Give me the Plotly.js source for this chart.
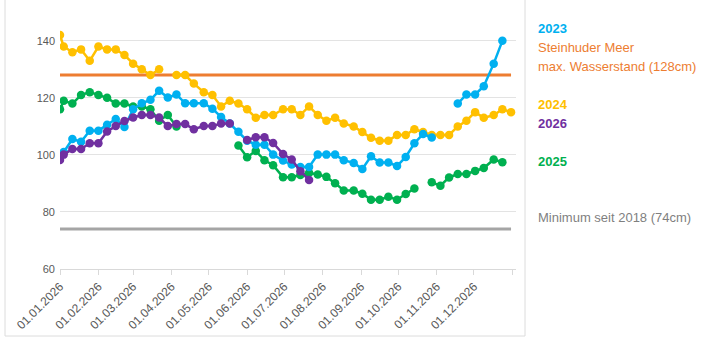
<!DOCTYPE html>
<html>
<head>
<meta charset="utf-8">
<script src="https://cdn.plot.ly/plotly-3.0.1.min.js"></script>
<style>
  html, body { margin: 0; padding: 0; background: #fff; }
  #chart { width: 720px; height: 344px; }
</style>
</head>
<body>
<div id="chart"></div>
<script>
// Measurement dates (all years shown on the 2026 calendar)
const dates = [
  '2026-01-01','2026-01-04','2026-01-11','2026-01-18','2026-01-25','2026-02-01','2026-02-08',
  '2026-02-15','2026-02-22','2026-03-01','2026-03-08','2026-03-15','2026-03-22','2026-03-29',
  '2026-04-05','2026-04-12','2026-04-19','2026-04-27','2026-05-04','2026-05-11','2026-05-18',
  '2026-05-25','2026-06-01','2026-06-08','2026-06-15','2026-06-22','2026-06-30','2026-07-07',
  '2026-07-14','2026-07-21','2026-07-28','2026-08-04','2026-08-11','2026-08-18','2026-08-26',
  '2026-09-02','2026-09-09','2026-09-16','2026-09-23','2026-09-30','2026-10-07','2026-10-14',
  '2026-10-21','2026-10-28','2026-11-04','2026-11-11','2026-11-18','2026-11-25','2026-12-02',
  '2026-12-09','2026-12-17','2026-12-24','2026-12-31'
];

// Water level in cm, one value per date (null = no reading)
const level2023 = [
  99, 101, 105.6, 104.6, 108.5, 108.5, 110.6, 112.6, 109.8, 116, 118.1, 119.3, 122.5, 120.1,
  121.2, 118.1, 118.1, 118.1, 116.2, 113.3, 111, 108.1, 105, 103.6, 103.6, 100.1, 98,
  96.6, 95.8, 95.8, 100.1, 100.1, 100.1, 98.1, 97.2, 95.1, 99.5, 97.3, 97.3, 96.1,
  99.3, 104.1, 107.3, 106.1, null, null, 118, 121.2, 121.2, 124.1, 132, 140, null
];
const level2024 = [
  142, 138, 136, 137, 133, 138, 137, 137, 135, 132, 130, 128, 130, null,
  128, 128, 125, 122, 121, 117, 119, 118, 116, 113, 114, 114, 116,
  116, 114, 117, 114, 112, 113, 111, 110, 108, 106, 105, 105, 107,
  107, 109, 108, 107, 107, 107, 110, 112, 115, 113, 114, 116, 115
];
const level2025 = [
  116, 119, 118, 121, 122, 121, 120, 118, 118, 117, 117, 116, 112, 114,
  110, null, null, null, null, null, null, 103.3, 99.2, 101.4, 98.1, 96.4, 92.2,
  92.2, 93, 93.7, 93.1, 92.3, 90.1, 87.5, 87.5, 86.4, 84.3, 84.3, 85.3, 84.3,
  86.3, 88.2, null, 90.4, 89.2, 92.1, 93.3, 93.3, 94.4, 95.4, 98.4, 97.4, null
];
const level2026 = [
  98.2, 100.1, 102.1, 102.1, 104.1, 104.1, 108.2, 110.1, 111.9, 113.1, 114, 114, 113.1, 110.1,
  110.8, 110.8, 109, 110.1, 110.1, 111, 111, null, 105.2, 106.2, 106.2, 104.2, 100.3,
  98.4, 94.3, 91.2
];

// Reference levels
const maxLevel = 128;   // max. Wasserstand
const minLevel = 74;    // Minimum seit 2018
const refSpan = ['2026-01-01', '2026-12-31'];

// Axis ticks
const monthTicks = [
  '2026-01-01','2026-02-01','2026-03-01','2026-04-01','2026-05-01','2026-06-01',
  '2026-07-01','2026-08-01','2026-09-01','2026-10-01','2026-11-01','2026-12-01','2027-01-01'
];
const monthLabels = [
  '01.01.2026','01.02.2026','01.03.2026','01.04.2026','01.05.2026','01.06.2026',
  '01.07.2026','01.08.2026','01.09.2026','01.10.2026','01.11.2026','01.12.2026',''
];
const yTicks = [60, 80, 100, 120, 140];

const colors = {
  y2023: '#00b0f0', y2024: '#ffc000', y2025: '#00b050', y2026: '#7030a0',
  max: '#ed7d31', min: '#a5a5a5'
};

function series(y, color) {
  return {
    x: dates, y: y, type: 'scatter', mode: 'lines+markers',
    line: { color: color, width: 2.5 },
    marker: { color: color, size: 8.5 },
    connectgaps: false, hoverinfo: 'skip'
  };
}

const traces = [
  { x: refSpan, y: [maxLevel, maxLevel], type: 'scatter', mode: 'lines',
    line: { color: colors.max, width: 3 }, hoverinfo: 'skip' },
  { x: refSpan, y: [minLevel, minLevel], type: 'scatter', mode: 'lines',
    line: { color: colors.min, width: 3 }, hoverinfo: 'skip' },
  series(level2024, colors.y2024),
  series(level2025, colors.y2025),
  series(level2023, colors.y2023),
  series(level2026, colors.y2026)
];

// Figure geometry in pixels
const W = 720, H = 344;
const M = { l: 60, r: 204, t: 18, b: 75 };
const plotH = H - M.t - M.b;
function py(pix) { return 1 - (pix - M.t) / plotH; }   // pixel row -> paper y
function px(pix) { return (pix - M.l) / (W - M.l - M.r); }

const legendX = px(536);
function note(text, color, row, bold) {
  return {
    text: bold ? '<b>' + text + '</b>' : text,
    xref: 'paper', yref: 'paper', x: legendX, y: py(row),
    xanchor: 'left', yanchor: 'middle', showarrow: false,
    font: { family: 'Liberation Sans, Arial, sans-serif', size: 13, color: color }
  };
}

const layout = {
  width: W, height: H,
  margin: M,
  paper_bgcolor: '#ffffff', plot_bgcolor: '#ffffff',
  showlegend: false,
  font: { family: 'Liberation Sans, Arial, sans-serif', size: 11, color: '#595959' },
  xaxis: {
    type: 'date',
    range: ['2026-01-01', '2027-01-04'],
    tickvals: monthTicks, ticktext: monthLabels,
    tickangle: -45,
    ticks: 'outside', ticklen: 5, tickcolor: '#d9d9d9', tickwidth: 1,
    showline: true, linecolor: '#d9d9d9', linewidth: 1,
    showgrid: false, zeroline: false,
    tickfont: { size: 12, color: '#595959' }
  },
  yaxis: {
    range: [60, 148],
    tickvals: yTicks,
    showgrid: true, gridcolor: '#e3e3e3', gridwidth: 1,
    zeroline: false, showline: false, ticks: '',
    ticklabelstandoff: 4,
    tickfont: { size: 11, color: '#595959' }
  },
  shapes: [
    { type: 'rect', xref: 'paper', yref: 'paper',
      x0: px(5), x1: px(525), y0: py(336), y1: py(-5),
      line: { color: '#dcdcdc', width: 1 }, fillcolor: 'rgba(0,0,0,0)', layer: 'above' }
  ],
  annotations: [
    note('2023', colors.y2023, 28.3, true),
    note('Steinhuder Meer', colors.max, 47.7, false),
    note('max. Wasserstand (128cm)', colors.max, 66.7, false),
    note('2024', colors.y2024, 104.3, true),
    note('2026', colors.y2026, 123.3, true),
    note('2025', colors.y2025, 161, true),
    note('Minimum seit 2018 (74cm)', '#7f7f7f', 217.7, false)
  ]
};

Plotly.newPlot('chart', traces, layout, { displayModeBar: false, staticPlot: true });
</script>
</body>
</html>
